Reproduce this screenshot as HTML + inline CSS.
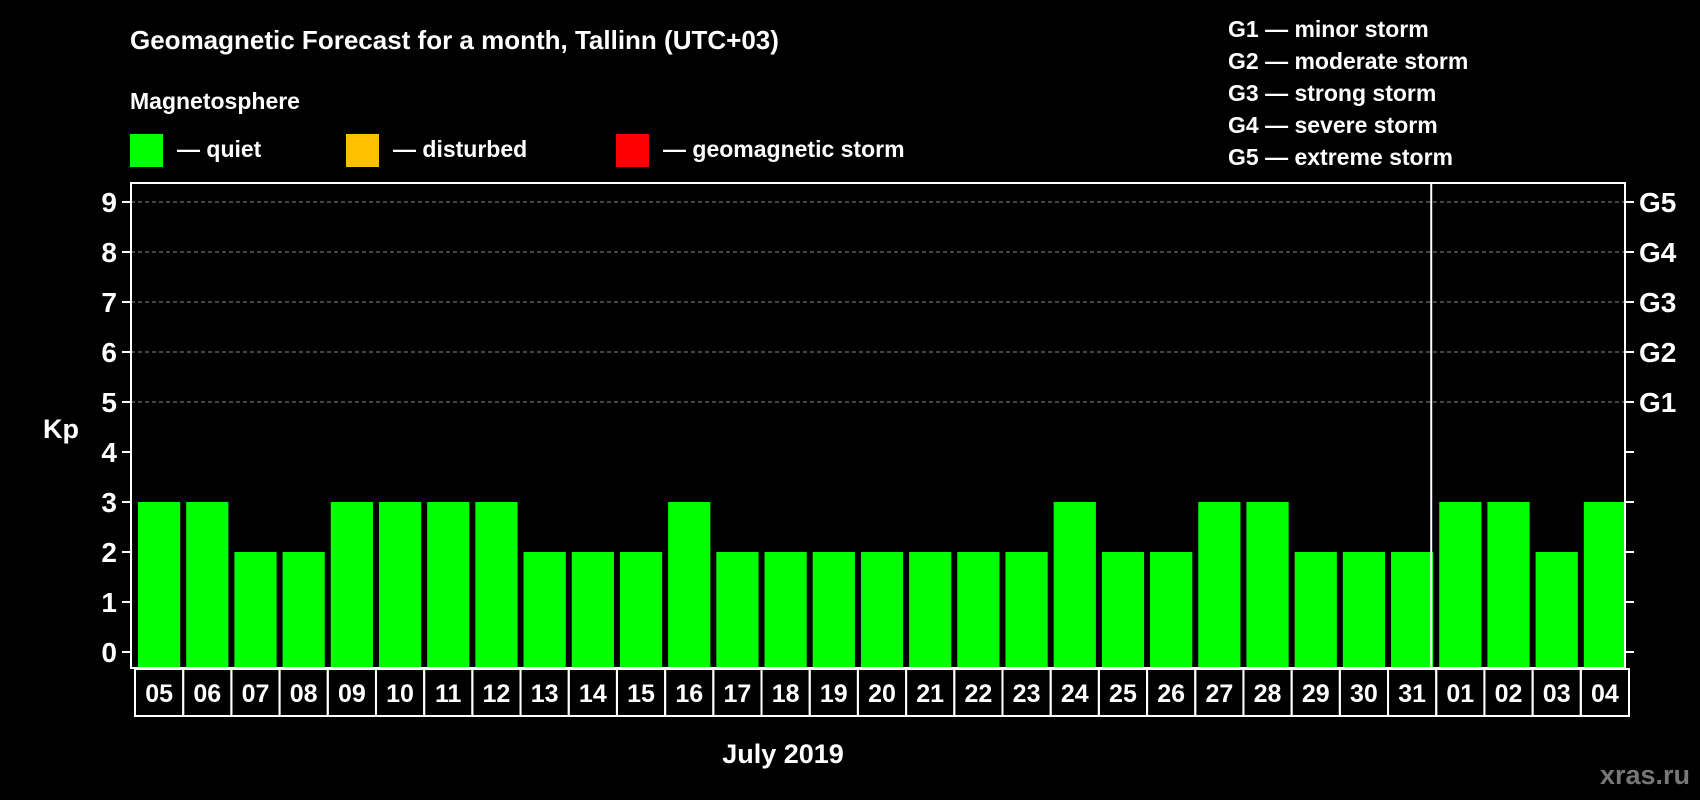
<!DOCTYPE html>
<html><head><meta charset="utf-8">
<style>
html,body{margin:0;padding:0;background:#000;width:1700px;height:800px;overflow:hidden}
svg{display:block;font-family:"Liberation Sans",Arial,sans-serif;font-weight:bold}
</style></head>
<body>
<svg id="chart" width="1700" height="800" viewBox="0 0 1700 800">
<text x="130" y="49" font-size="26" fill="#fff">Geomagnetic Forecast for a month, Tallinn (UTC+03)</text>
<text x="130" y="109" font-size="23" fill="#fff">Magnetosphere</text>
<g><rect x="130" y="134" width="33" height="33" fill="#00ff00"/><text x="177" y="157" font-size="23" fill="#fff">— quiet</text></g>
<g><rect x="346" y="134" width="33" height="33" fill="#ffc000"/><text x="393" y="157" font-size="23" fill="#fff">— disturbed</text></g>
<g><rect x="616" y="134" width="33" height="33" fill="#ff0000"/><text x="663" y="157" font-size="23" fill="#fff">— geomagnetic storm</text></g>
<g font-size="23" fill="#fff">
<text x="1228" y="37">G1 — minor storm</text>
<text x="1228" y="69">G2 — moderate storm</text>
<text x="1228" y="101">G3 — strong storm</text>
<text x="1228" y="133">G4 — severe storm</text>
<text x="1228" y="165">G5 — extreme storm</text>
</g>
<text x="43" y="438" font-size="27" fill="#fff">Kp</text>
<text x="783" y="763" font-size="27" fill="#fff" text-anchor="middle">July 2019</text>
<text x="1690" y="784" font-size="27" fill="#777" text-anchor="end">xras.ru</text>
<g id="plot"></g>
</svg>
<script>
const days = ["05","06","07","08","09","10","11","12","13","14","15","16","17","18","19","20","21","22","23","24","25","26","27","28","29","30","31","01","02","03","04"];
const kpValues = [3,3,2,2,3,3,3,3,2,2,2,3,2,2,2,2,2,2,2,3,2,2,3,3,2,2,2,3,3,2,3];
const yTicks = [0,1,2,3,4,5,6,7,8,9];
const gLabels = ["","","","","","G1","G2","G3","G4","G5"];

const NS = "http://www.w3.org/2000/svg";
const plot = document.getElementById('plot');
const L = 131, R = 1625, T = 183, B = 668;
const y0 = 652, unit = 50;
const yScale = v => y0 - v * unit;
const step = (R - L) / days.length;
const xScale = i => L + i * step;
function mk(tag, attrs){const e=document.createElementNS(NS,tag);for(const k in attrs)e.setAttribute(k,attrs[k]);plot.appendChild(e);return e;}

yTicks.forEach((v,i)=>{
  const y = yScale(v);
  if (v >= 5) {
    const g = mk('line',{x1:L,x2:R,y1:y,y2:y,stroke:'#888','stroke-width':1,'stroke-dasharray':'4,3'});
    
    
  }
  const t1 = mk('line',{x1:L-9,x2:L,y1:y,y2:y,stroke:'#fff','stroke-width':2});
  
  
  const t2 = mk('line',{x1:R,x2:R+9,y1:y,y2:y,stroke:'#fff','stroke-width':2});
  
  
  const lab = mk('text',{x:L-14,y:y+10,'font-size':28,fill:'#fff','text-anchor':'end'});
  lab.textContent = v;
  
  
  if (gLabels[i]) {
    const gl = mk('text',{x:R+14,y:y+10,'font-size':28,fill:'#fff'});
    gl.textContent = gLabels[i];
    
    
  }
});

kpValues.forEach((v,i)=>{
  const x = xScale(i);
  const b = mk('rect',{x:x+7,y:yScale(v),width:step-6,height:B-yScale(v),fill: v>=5?'#ff0000':(v>=4?'#ffc000':'#00ff00')});
  
  
  const c = mk('rect',{x:x+4,y:669,width:step,height:47,fill:'none',stroke:'#fff','stroke-width':2});
  
  
  const t = mk('text',{x:x+4+step/2,y:702,'font-size':25,fill:'#fff','text-anchor':'middle'});
  t.textContent = days[i];
  
  
});

const monthIdx = days.indexOf("01");
const d = mk('line',{x1:xScale(monthIdx)-1,x2:xScale(monthIdx)-1,y1:T,y2:B,stroke:'#fff','stroke-width':2});


const frame = mk('rect',{x:L,y:T,width:R-L,height:B-T,fill:'none',stroke:'#fff','stroke-width':2});


</script>
</body></html>
